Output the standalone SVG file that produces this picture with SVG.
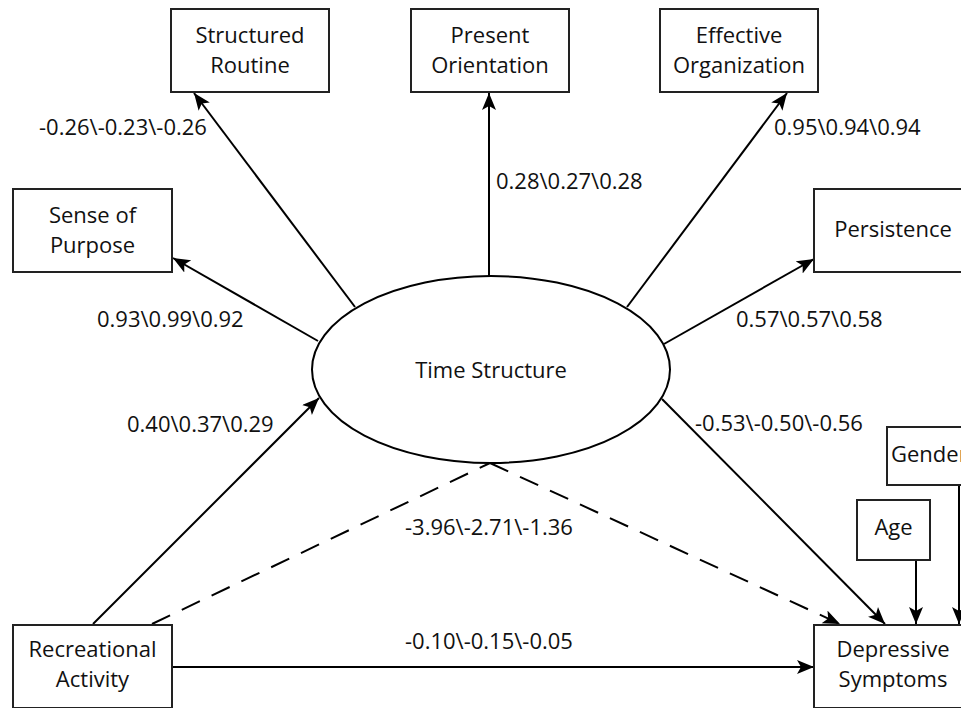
<svg xmlns="http://www.w3.org/2000/svg" width="961" height="708" viewBox="0 0 961 708">
<defs>
<marker id="ah" markerUnits="userSpaceOnUse" markerWidth="18" markerHeight="16" refX="17" refY="7" orient="auto">
<path d="M0,0 L17,7 L0,14 L4,7 Z" fill="#000" stroke="none"/>
</marker>
<style>
text{font-family:"Open Sans","Liberation Sans",sans-serif;font-size:22px;fill:#111;}
.c{text-anchor:middle;}
.box{fill:#fff;stroke:#222;stroke-width:2;}
.ln{stroke:#000;stroke-width:2;fill:none;}
.ar{marker-end:url(#ah);}
.dash{stroke-dasharray:20 13;}
</style>
</defs>
<rect width="961" height="708" fill="#fff"/>
<g id="connectors">
<line class="ln ar" x1="355" y1="307" x2="194" y2="93"/>
<line class="ln ar" x1="489" y1="276" x2="489" y2="93"/>
<line class="ln ar" x1="627" y1="307" x2="787" y2="93"/>
<line class="ln ar" x1="318" y1="341" x2="173" y2="258"/>
<line class="ln ar" x1="664" y1="344" x2="814" y2="259"/>
<line class="ln ar" x1="662" y1="399" x2="885" y2="624"/>
<line class="ln ar" x1="93" y1="624" x2="319" y2="398"/>
<line class="ln ar" x1="172" y1="667" x2="814" y2="667"/>
<line class="ln dash" x1="152" y1="624" x2="490" y2="463"/>
<line class="ln dash ar" x1="490" y1="463" x2="840" y2="624"/>
<line class="ln ar" x1="916" y1="560" x2="916" y2="624"/>
<line class="ln ar" x1="959" y1="485" x2="959" y2="624"/>
</g>
<g id="structured-routine"><rect class="box" x="171" y="9" width="158" height="83"/><text class="c" x="250" y="43">Structured</text><text class="c" x="250" y="73">Routine</text></g>
<g id="present-orientation"><rect class="box" x="411" y="9" width="158" height="83"/><text class="c" x="490" y="43">Present</text><text class="c" x="490" y="73">Orientation</text></g>
<g id="effective-organization"><rect class="box" x="660" y="9" width="158" height="83"/><text class="c" x="739" y="43">Effective</text><text class="c" x="739" y="73">Organization</text></g>
<g id="sense-of-purpose"><rect class="box" x="13" y="189" width="159" height="83"/><text class="c" x="92.5" y="223">Sense of</text><text class="c" x="92.5" y="253">Purpose</text></g>
<g id="persistence"><rect class="box" x="814" y="189" width="158" height="83"/><text class="c" x="893" y="237">Persistence</text></g>
<g id="time-structure"><ellipse cx="491" cy="369.5" rx="179" ry="93.5" fill="#fff" stroke="#000" stroke-width="2"/><text class="c" x="491" y="378">Time Structure</text></g>
<g id="recreational-activity"><rect class="box" x="13" y="625" width="159" height="83"/><text class="c" x="92.5" y="657">Recreational</text><text class="c" x="92.5" y="687">Activity</text></g>
<g id="depressive-symptoms"><rect class="box" x="814" y="625" width="158" height="83"/><text class="c" x="893" y="657">Depressive</text><text class="c" x="893" y="687">Symptoms</text></g>
<g id="gender"><rect class="box" x="887" y="427" width="90" height="58"/><text x="891" y="462">Gender</text></g>
<g id="age"><rect class="box" x="857" y="500" width="73" height="60"/><text class="c" x="893.5" y="535">Age</text></g>
<g id="labels">
<text x="39" y="135">-0.26\-0.23\-0.26</text>
<text x="496" y="189">0.28\0.27\0.28</text>
<text x="774" y="135">0.95\0.94\0.94</text>
<text x="97" y="327">0.93\0.99\0.92</text>
<text x="736" y="327">0.57\0.57\0.58</text>
<text x="127" y="432">0.40\0.37\0.29</text>
<text x="695" y="431">-0.53\-0.50\-0.56</text>
<text x="405" y="535">-3.96\-2.71\-1.36</text>
<text x="405" y="649">-0.10\-0.15\-0.05</text>
</g>
</svg>
